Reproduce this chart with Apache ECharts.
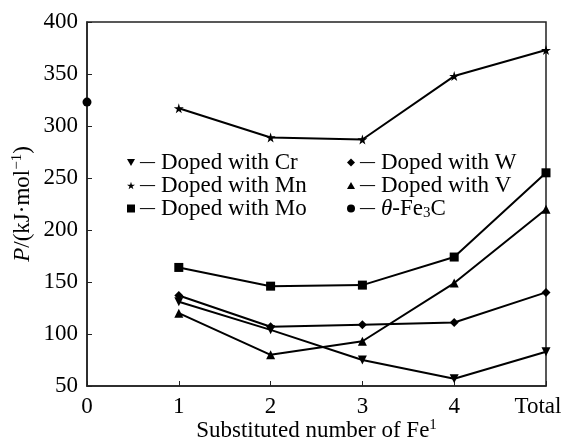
<!DOCTYPE html>
<html>
<head>
<meta charset="utf-8">
<script src="https://cdn.jsdelivr.net/npm/echarts@6/dist/echarts.min.js"></script>
<style>html,body{margin:0;padding:0;background:#fff}#c{width:565px;height:441px}</style>
</head>
<body>
<div id="c"></div>
<script>
const xTicks = ['0', '1', '2', '3', '4', 'Total'];
const cr = [null, 131, 104, 75, 57, 83];
const mn = [null, 317, 289, 287, 348, 373];
const mo = [null, 164, 146, 147, 174, 255];
const w  = [null, 137, 107, 109, 111, 140];
const v  = [null, 120, 80, 93, 149, 220];
const fe3c = [323, null, null, null, null, null];

const FONT = 'Liberation Serif';
const FS = 23;
const TRI_DOWN = 'path://M0,0 L10,0 L5,9 Z';
const TRI_UP = 'path://M5,0 L10,9 L0,9 Z';
const STAR = 'path://M50,0 L61,35 L98,35 L68,57 L79,91 L50,70 L21,91 L32,57 L2,35 L39,35 Z';

function mk(name, data, symbol, size) {
  return {
    name: name, type: 'line', data: data, symbol: symbol, symbolSize: size,
    showSymbol: true, connectNulls: false,
    lineStyle: { color: '#000', width: 2 },
    itemStyle: { color: '#000' },
    emphasis: { disabled: true }, animation: false
  };
}

const rich = {
  d: { fontFamily: FONT, fontSize: 15, fontWeight: 'bold', color: '#000', padding: [0, 6, 0, 0] },
  t: { fontFamily: FONT, fontSize: FS, color: '#000' },
  i: { fontFamily: FONT, fontSize: FS, fontStyle: 'italic', color: '#000' },
  s: { fontFamily: FONT, fontSize: 15, color: '#000', padding: [10, 0, 0, 0] }
};
function fmt(name) {
  if (name === 'θ-Fe3C') return '{d|—}{i|θ}{t|-Fe}{s|3}{t|C}';
  return '{d|—}{t|' + name + '}';
}
const legBase = {
  orient: 'vertical', itemWidth: 8, itemHeight: 8, itemGap: 0,
  textStyle: { fontFamily: FONT, fontSize: FS, color: '#000', rich: rich, lineHeight: 22 },
  formatter: fmt, selectedMode: false
};

const chart = echarts.init(document.getElementById('c'), null, { renderer: 'canvas' });
chart.setOption({
  animation: false,
  backgroundColor: '#fff',
  grid: { left: 87, right: 19, top: 22, bottom: 55, containLabel: false, outerBoundsMode: 'none',
          show: true, borderColor: '#222', borderWidth: 1.5, backgroundColor: 'transparent' },
  legend: [
    Object.assign({}, legBase, { left: 122, top: 146, data: [
      { name: 'Doped with Cr', icon: TRI_DOWN },
      { name: 'Doped with Mn', icon: STAR },
      { name: 'Doped with Mo', icon: 'rect' }
    ]}),
    Object.assign({}, legBase, { left: 342, top: 146, data: [
      { name: 'Doped with W', icon: 'diamond' },
      { name: 'Doped with V', icon: TRI_UP },
      { name: 'θ-Fe3C', icon: 'circle' }
    ]})
  ],
  xAxis: {
    type: 'category', data: xTicks, boundaryGap: false,
    axisLine: { lineStyle: { color: '#222', width: 1.5 } },
    axisTick: { inside: true, length: 5, interval: 0, alignWithLabel: true, lineStyle: { color: '#222' } },
    axisLabel: {
      fontFamily: FONT, fontSize: FS, color: '#000', margin: 9, interval: 0, hideOverlap: false,
      formatter: function (val) { return val === 'Total' ? '{r|' + val + '}' : val; },
      rich: { r: { fontFamily: FONT, fontSize: FS, color: '#000', padding: [0, 16, 0, 0] } }
    },
    splitLine: { show: false },
    name: '{t|Substituted number of Fe}{p|1}',
    nameLocation: 'middle', nameGap: 32, nameMoveOverlap: false,
    nameTextStyle: { rich: {
      t: { fontFamily: FONT, fontSize: FS, color: '#000' },
      p: { fontFamily: FONT, fontSize: 15, color: '#000', padding: [0, 0, 11, 0] }
    }}
  },
  yAxis: {
    type: 'value', min: 50, max: 400, interval: 50,
    axisLine: { show: true, lineStyle: { color: '#222', width: 1.5 } },
    axisTick: { show: true, inside: true, length: 5, lineStyle: { color: '#222' } },
    axisLabel: { fontFamily: FONT, fontSize: FS, color: '#000', margin: 9 },
    splitLine: { show: false },
    name: '{i|P}{t|/(kJ·mol}{p|−1}{t|)}',
    nameLocation: 'middle', nameRotate: 90, nameGap: 51, nameMoveOverlap: false,
    nameTextStyle: { rich: {
      i: { fontFamily: FONT, fontSize: FS, fontStyle: 'italic', color: '#000' },
      t: { fontFamily: FONT, fontSize: FS, color: '#000' },
      p: { fontFamily: FONT, fontSize: 15, color: '#000', padding: [0, 0, 11, 0] }
    }}
  },
  series: [
    mk('Doped with Cr', cr, TRI_DOWN, 9),
    mk('Doped with Mn', mn, STAR, 10),
    mk('Doped with Mo', mo, 'rect', 9),
    mk('Doped with W', w, 'diamond', 9),
    mk('Doped with V', v, TRI_UP, 9),
    mk('θ-Fe3C', fe3c, 'circle', 9)
  ]
});
</script>
</body>
</html>
